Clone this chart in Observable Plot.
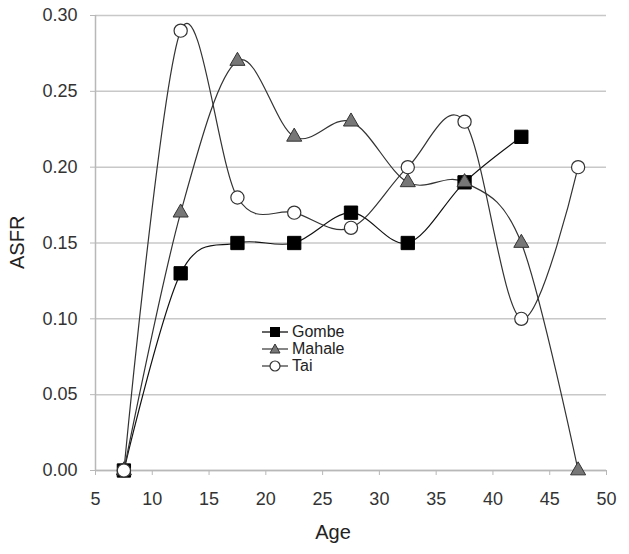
<!DOCTYPE html>
<html>
<head>
<meta charset="utf-8">
<script src="https://cdn.jsdelivr.net/npm/d3@7"></script>
<script src="https://cdn.jsdelivr.net/npm/@observablehq/plot@0.6"></script>
<style>
  html, body { margin: 0; padding: 0; background: #fff; }
  #wrap { position: relative; width: 629px; height: 554px; font-family: "Liberation Sans", Arial, sans-serif; }
  #legend { position: absolute; left: 262px; top: 323px; font-size: 16px; color: #222; line-height: 17px; }
  #legend .row { display: flex; align-items: center; height: 17px; }
  #legend svg { margin-right: 3px; }
</style>
</head>
<body>
<div id="wrap"></div>
<script>
const ages = [7.5, 12.5, 17.5, 22.5, 27.5, 32.5, 37.5, 42.5, 47.5];
const gombe = [0, 0.13, 0.15, 0.15, 0.17, 0.15, 0.19, 0.22];
const mahale = [0, 0.17, 0.27, 0.22, 0.23, 0.19, 0.19, 0.15, 0];
const tai = [0, 0.29, 0.18, 0.17, 0.16, 0.20, 0.23, 0.10, 0.20];
const xTicks = [5, 10, 15, 20, 25, 30, 35, 40, 45, 50];
const yTicks = [0, 0.05, 0.10, 0.15, 0.20, 0.25, 0.30];
const seriesNames = ["Gombe", "Mahale", "Tai"];
const xTitle = "Age";
const yTitle = "ASFR";

const toRows = (vals) => vals.map((v, i) => ({age: ages[i], asfr: v}));
const G = toRows(gombe), M = toRows(mahale), T = toRows(tai);

const lineStyle = {x: "age", y: "asfr", curve: "cardinal", stroke: "#333", strokeWidth: 1.2};

const chart = Plot.plot({
  width: 629,
  height: 554,
  marginLeft: 95,
  marginRight: 23,
  marginTop: 15,
  marginBottom: 84,
  style: {fontFamily: "'Liberation Sans', Arial, sans-serif", fontSize: "18px", color: "#333", background: "#fff"},
  x: {domain: [5, 50]},
  y: {domain: [0, 0.30]},
  marks: [
    Plot.gridY(yTicks, {stroke: "#c8c8c8", strokeOpacity: 1, strokeWidth: 1.5}),
    Plot.ruleX([5], {stroke: "#b8b8b8", strokeWidth: 1.5}),
    Plot.ruleY([0], {stroke: "#b8b8b8", strokeWidth: 1.5}),
    Plot.axisX({ticks: xTicks, tickSize: 5, stroke: "#b8b8b8", tickPadding: 17, fill: "#333", fontSize: 18, label: null}),
    Plot.axisY({ticks: yTicks, tickSize: 5, stroke: "#b8b8b8", tickPadding: 13, tickFormat: d3.format(".2f"), fill: "#333", fontSize: 18, label: null}),
    Plot.text([xTitle], {frameAnchor: "bottom", dy: 68, dx: -18, fontSize: 20, fill: "#222"}),
    Plot.text([yTitle], {frameAnchor: "left", dx: -78, dy: 26, rotate: -90, fontSize: 20, fill: "#222"}),
    Plot.line(G, {...lineStyle, stroke: "#111"}),
    Plot.line(M, lineStyle),
    Plot.line(T, lineStyle),
    Plot.dot(G, {x: "age", y: "asfr", symbol: "square", r: 7.5, fill: "#000", stroke: "#000", strokeWidth: 1}),
    Plot.dot(M, {x: "age", y: "asfr", symbol: "triangle", r: 5.6, fill: "#777", stroke: "#333", strokeWidth: 1}),
    Plot.dot(T, {x: "age", y: "asfr", symbol: "circle", r: 6.6, fill: "#fff", stroke: "#333", strokeWidth: 1.2})
  ]
});

const wrap = document.getElementById("wrap");
wrap.appendChild(chart);

// legend
const legend = document.createElement("div");
legend.id = "legend";
const sym = {
  Gombe: '<line x1="0" y1="8" x2="26" y2="8" stroke="#111" stroke-width="1.3"/><rect x="8" y="3" width="10" height="10" fill="#000"/>',
  Mahale: '<line x1="0" y1="8" x2="26" y2="8" stroke="#333" stroke-width="1.2"/><path d="M13,3 L18,12 L8,12 Z" fill="#777" stroke="#333"/>',
  Tai: '<line x1="0" y1="8" x2="26" y2="8" stroke="#333" stroke-width="1.2"/><circle cx="13" cy="8" r="5" fill="#fff" stroke="#333" stroke-width="1.2"/>'
};
seriesNames.forEach(n => {
  const row = document.createElement("div");
  row.className = "row";
  row.innerHTML = `<svg width="27" height="16">${sym[n]}</svg><span>${n}</span>`;
  legend.appendChild(row);
});
wrap.appendChild(legend);
</script>
</body>
</html>
